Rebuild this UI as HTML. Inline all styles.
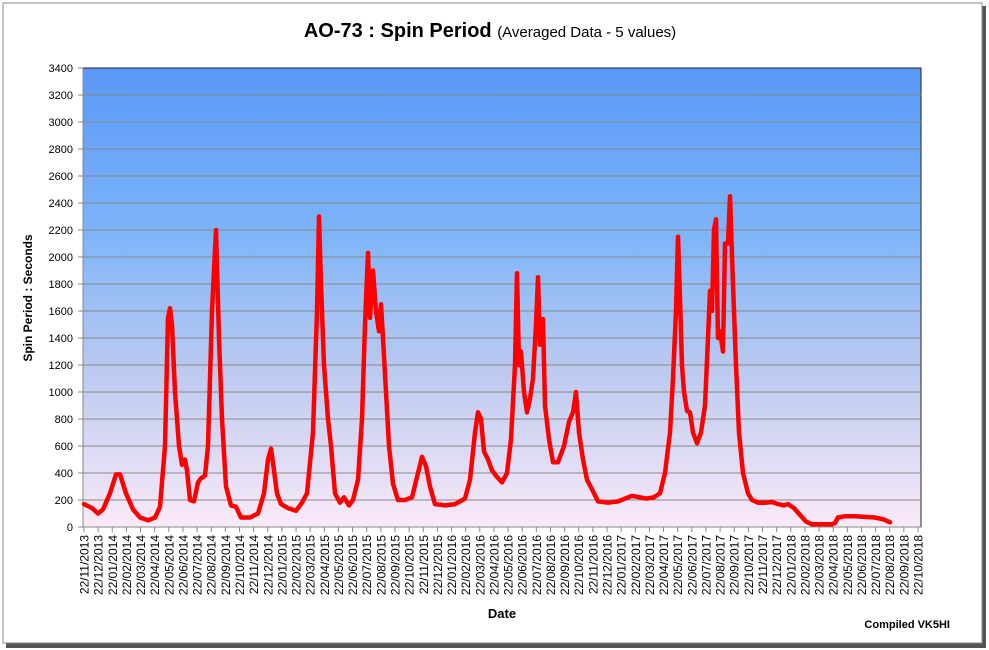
<!DOCTYPE html>
<html><head><style>body{margin:0;background:#fff;}svg{display:block;font-family:"Liberation Sans",sans-serif;}</style></head><body>
<svg width="989" height="650" xmlns="http://www.w3.org/2000/svg">
<defs>
<linearGradient id="bg" x1="0" y1="0" x2="0" y2="1">
<stop offset="0" stop-color="#5a98f6"/>
<stop offset="0.35" stop-color="#7cb4fa"/>
<stop offset="0.65" stop-color="#b9c9f0"/>
<stop offset="1" stop-color="#fbeaf8"/>
</linearGradient>
</defs>
<rect x="6" y="6" width="980" height="642" fill="#555"/>
<rect x="3" y="3" width="979" height="640" fill="#fff" stroke="#888" stroke-width="1"/>
<text x="490" y="37" text-anchor="middle" font-size="20" font-weight="bold">AO-73 : Spin Period <tspan font-size="15" font-weight="normal">(Averaged Data - 5 values)</tspan></text>
<rect x="83" y="68" width="838" height="459" fill="url(#bg)" stroke="#222" stroke-width="1"/>
<g id="grid" stroke="#888" stroke-width="1"></g>
<g id="yl" font-size="11" text-anchor="end"></g>
<g id="xl" font-size="12"></g>
<line x1="83" y1="527" x2="921" y2="527" stroke="#888"/>
<line x1="83" y1="68" x2="83" y2="527" stroke="#888"/>
<polyline id="ser" fill="none" stroke="#f00" stroke-width="4.5" stroke-linejoin="round" stroke-linecap="round"/>
<text x="32" y="298" transform="rotate(-90 32 298)" text-anchor="middle" font-size="12" font-weight="bold">Spin Period : Seconds</text>
<text x="502" y="618" text-anchor="middle" font-size="13" font-weight="bold">Date</text>
<text x="950" y="628" text-anchor="end" font-size="11" font-weight="bold">Compiled VK5HI</text>
</svg>
<script>
var ns="http://www.w3.org/2000/svg";
function el(t,a,p,txt){var e=document.createElementNS(ns,t);for(var k in a)e.setAttribute(k,a[k]);if(txt)e.textContent=txt;document.getElementById(p).appendChild(e);}
function Y(v){return 527-v*459/3400;}
for(var v=0;v<=3400;v+=200){var y=Y(v);if(v>0&&v<3400)el("line",{x1:83,x2:921,y1:y,y2:y},"grid");el("line",{x1:78,x2:83,y1:y,y2:y},"grid");el("text",{x:73,y:y+4},"yl",String(v));}
var mo=11,yr=2013;
for(var i=0;i<60;i++){var x=84+i*834/59;el("line",{x1:x,x2:x,y1:527,y2:532},"grid");
var s="22/"+(mo<10?"0":"")+mo+"/"+yr;el("text",{x:0,y:0,transform:"translate("+(x+4.5)+",535) rotate(-90)","text-anchor":"end"},"xl",s);mo++;if(mo>12){mo=1;yr++;}}
var d=[84,170,92,140,98,100,103,130,110,250,116,390,120,390,126,250,133,130,140,70,148,50,155,70,160,150,165,600,168,1550,170,1620,172,1500,175,1000,179,600,182,460,185,500,187,420,190,200,194,190,198,330,201,360,205,380,208,600,212,1600,216,2200,219,1400,222,800,226,300,231,160,236,150,241,70,250,70,258,100,264,250,268,500,271,580,274,420,277,250,281,170,288,140,296,120,302,180,307,250,313,700,317,1600,319,2300,321,1800,324,1200,328,800,331,600,335,250,340,180,344,220,349,160,353,200,358,350,362,800,365,1500,368,2030,370,1550,373,1900,376,1600,379,1450,381,1650,383,1400,386,1000,389,600,393,320,398,200,405,200,412,220,418,400,422,520,426,450,430,300,435,170,445,160,455,170,465,210,470,350,475,700,478,850,481,800,484,560,488,500,492,420,496,380,502,330,507,400,511,650,515,1200,517,1880,519,1200,521,1300,524,1000,527,850,530,950,533,1100,536,1500,538,1850,540,1350,543,1540,545,900,549,650,553,480,558,480,564,600,569,780,573,850,576,1000,579,700,583,500,587,350,592,280,598,190,608,180,618,190,625,210,632,230,640,220,646,210,654,220,660,250,665,400,670,700,673,1100,676,1600,678,2150,680,1700,682,1200,684,1000,687,860,690,850,693,700,697,620,701,700,705,900,708,1400,710,1750,712,1600,714,2200,716,2280,718,1400,720,1450,723,1300,725,2100,728,2100,730,2450,733,1800,736,1200,739,700,743,400,748,250,752,200,758,180,766,180,772,185,778,170,784,160,788,170,794,140,800,90,806,40,812,20,820,20,826,20,832,20,835,30,838,70,845,80,855,80,865,75,875,70,884,55,890,35];
var p=[];for(var i=0;i<d.length;i+=2)p.push(d[i]+","+Y(d[i+1]).toFixed(1));
document.getElementById("ser").setAttribute("points",p.join(" "));
</script>
</body></html>
